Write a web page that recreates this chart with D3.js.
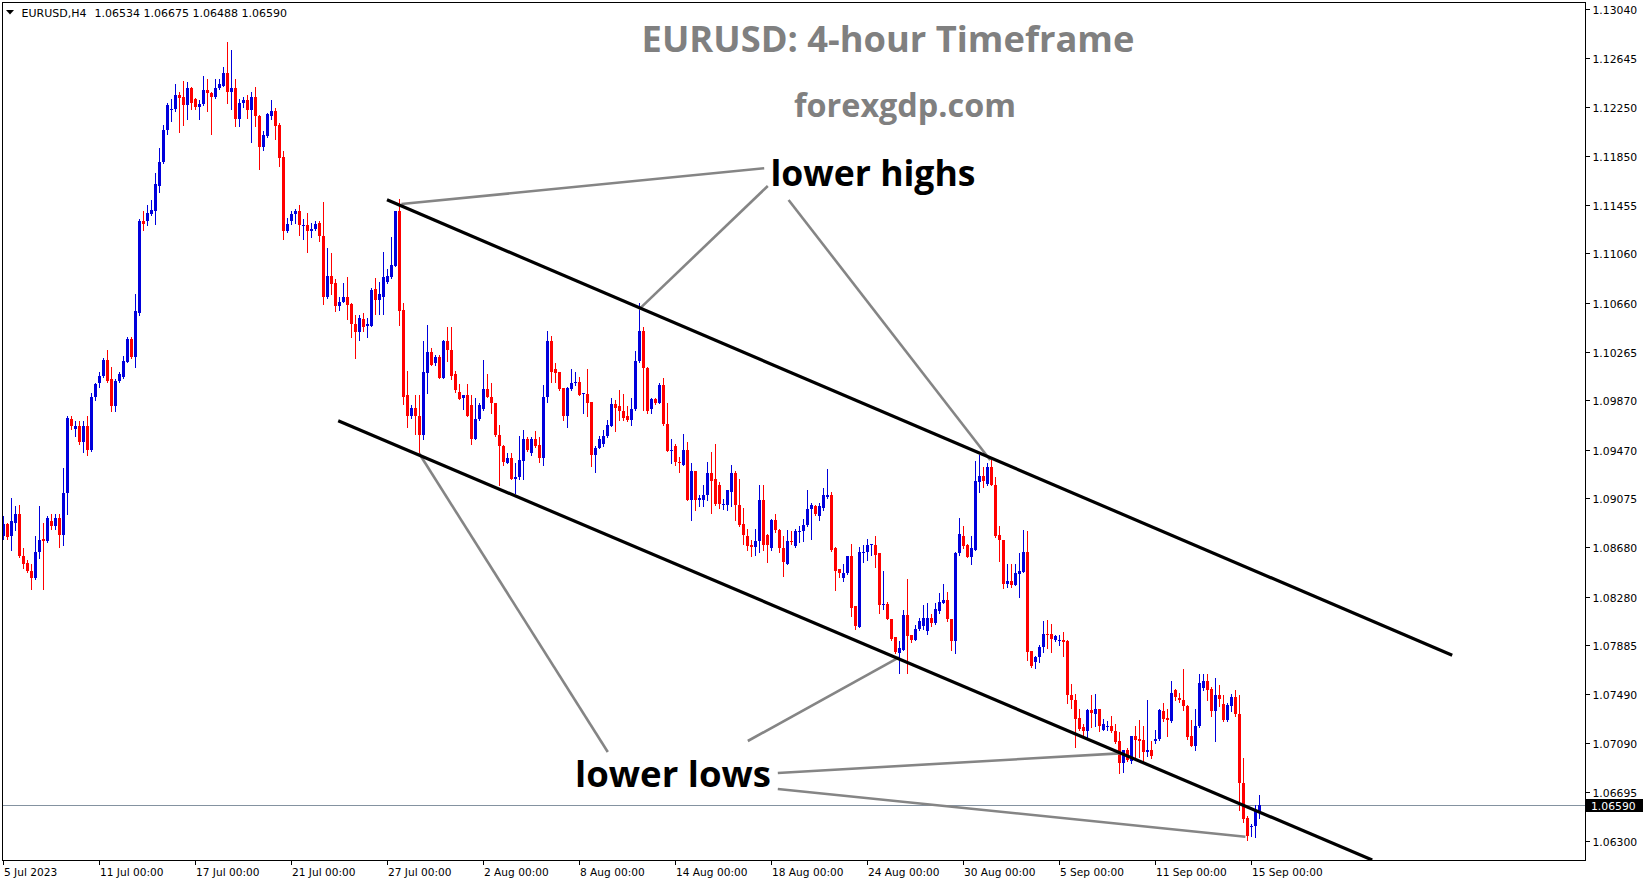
<!DOCTYPE html>
<html><head><meta charset="utf-8">
<script src="https://cdn.jsdelivr.net/npm/d3@7"></script>
<style>html,body{margin:0;padding:0;background:#fff;overflow:hidden}svg{display:block}</style>
</head><body>
<svg id="chart" width="1649" height="884"></svg>
<script>
// ---------- DATA (EURUSD H4) ----------
const symbolLabel = "EURUSD,H4";
const open = [1.0877,1.0887,1.0877,1.0888,1.0895,1.0861,1.0855,1.0849,1.0843,1.0864,1.0875,1.0873,1.0889,1.0885,1.0892,1.0878,1.0912,1.0972,1.0964,1.0966,1.0953,1.0966,1.0947,1.0990,1.1001,1.1007,1.1020,1.1004,1.0982,1.1003,1.1006,1.1018,1.1037,1.1022,1.1058,1.1132,1.1132,1.1138,1.1140,1.1161,1.1180,1.1206,1.1222,1.1223,1.1234,1.1233,1.1226,1.1240,1.1231,1.1225,1.1227,1.1238,1.1236,1.1233,1.1240,1.1242,1.1252,1.1237,1.1240,1.1215,1.1228,1.1230,1.1222,1.1233,1.1217,1.1192,1.1201,1.1217,1.1221,1.1210,1.1184,1.1124,1.1132,1.1138,1.1140,1.1128,1.1129,1.1124,1.1126,1.1131,1.1120,1.1071,1.1088,1.1082,1.1063,1.1067,1.1071,1.1065,1.1049,1.1042,1.1053,1.1047,1.1047,1.1077,1.1068,1.1071,1.1083,1.1087,1.1096,1.1140,1.1060,1.0991,1.0974,1.0981,1.0974,1.0959,1.1009,1.1026,1.1017,1.1022,1.1005,1.1035,1.1028,1.1008,1.0994,1.0989,1.0991,1.0983,1.0956,1.0972,1.0980,1.0996,1.0990,1.0985,1.0959,1.0950,1.0936,1.0940,1.0923,1.0925,1.0938,1.0956,1.0944,1.0956,1.0951,1.0940,1.0990,1.1035,1.1012,1.1010,1.0997,1.0974,1.0996,1.1001,1.1002,1.0992,1.0992,1.0986,1.0943,1.0948,1.0952,1.0958,1.0966,1.0984,1.0982,1.0978,1.0974,1.0971,1.0980,1.1019,1.1043,1.1013,1.0980,1.0988,1.0985,1.0999,1.0968,1.0946,1.0950,1.0937,1.0935,1.0947,1.0906,1.0930,1.0906,1.0906,1.0910,1.0928,1.0923,1.0918,1.0902,1.0902,1.0913,1.0928,1.0902,1.0887,1.0877,1.0870,1.0868,1.0873,1.0906,1.0878,1.0867,1.0890,1.0882,1.0867,1.0854,1.0873,1.0869,1.0880,1.0881,1.0886,1.0899,1.0901,1.0893,1.0900,1.0909,1.0910,1.0867,1.0850,1.0843,1.0847,1.0861,1.0820,1.0803,1.0863,1.0864,1.0870,1.0870,1.0863,1.0821,1.0822,1.0810,1.0795,1.0782,1.0785,1.0813,1.0797,1.0793,1.0802,1.0804,1.0800,1.0811,1.0807,1.0816,1.0823,1.0825,1.0810,1.0792,1.0863,1.0877,1.0870,1.0860,1.0866,1.0921,1.0926,1.0919,1.0933,1.0918,1.0878,1.0874,1.0838,1.0841,1.0837,1.0846,1.0848,1.0864,1.0784,1.0775,1.0779,1.0787,1.0798,1.0798,1.0793,1.0792,1.0793,1.0792,1.0748,1.0744,1.0730,1.0722,1.0719,1.0736,1.0733,1.0737,1.0720,1.0722,1.0723,1.0719,1.0711,1.0693,1.0704,1.0695,1.0715,1.0713,1.0712,1.0702,1.0704,1.0711,1.0713,1.0735,1.0730,1.0727,1.0752,1.0746,1.0744,1.0739,1.0715,1.0707,1.0723,1.0754,1.0760,1.0753,1.0735,1.0748,1.0741,1.0728,1.0739,1.0747,1.0733,1.0677,1.0649,1.0641,1.0642,1.06534];
const high = [1.0893,1.0888,1.0908,1.0901,1.0902,1.0867,1.0858,1.0854,1.0877,1.0901,1.0888,1.0893,1.0895,1.0895,1.0895,1.0932,1.0974,1.0974,1.0970,1.0970,1.0970,1.0974,1.0993,1.1001,1.1010,1.1021,1.1028,1.1014,1.1004,1.1010,1.1023,1.1038,1.1038,1.1073,1.1134,1.1140,1.1145,1.1149,1.1171,1.1191,1.1210,1.1228,1.1231,1.1243,1.1237,1.1246,1.1245,1.1241,1.1232,1.1230,1.1250,1.1247,1.1237,1.1247,1.1247,1.1257,1.1277,1.1271,1.1247,1.1231,1.1233,1.1234,1.1237,1.1241,1.1218,1.1205,1.1220,1.1230,1.1224,1.1212,1.1189,1.1135,1.1140,1.1142,1.1145,1.1134,1.1139,1.1131,1.1132,1.1132,1.1148,1.1110,1.1106,1.1085,1.1071,1.1082,1.1087,1.1066,1.1056,1.1056,1.1058,1.1054,1.1078,1.1086,1.1083,1.1107,1.1093,1.1119,1.1140,1.1150,1.1066,1.1011,1.0983,1.0991,1.0991,1.1035,1.1048,1.1029,1.1024,1.1024,1.1036,1.1046,1.1046,1.1011,1.1000,1.0991,1.1000,1.0991,1.0989,1.0985,1.1020,1.1008,1.1001,1.0985,1.0967,1.0951,1.0944,1.0944,1.0936,1.0958,1.0963,1.0957,1.0957,1.0962,1.0957,1.0999,1.1043,1.1039,1.1017,1.1010,1.0997,1.0998,1.1012,1.1010,1.1006,1.0993,1.1012,1.0986,1.0950,1.0958,1.0963,1.0971,1.0989,1.0987,1.0995,1.0992,1.0982,1.0989,1.1027,1.1066,1.1046,1.1014,1.0989,1.0989,1.1001,1.1005,1.0985,1.0956,1.0952,1.0941,1.0960,1.0953,1.0936,1.0930,1.0910,1.0918,1.0937,1.0945,1.0952,1.0921,1.0907,1.0914,1.0935,1.0930,1.0923,1.0900,1.0883,1.0874,1.0883,1.0918,1.0918,1.0879,1.0891,1.0895,1.0883,1.0877,1.0882,1.0881,1.0883,1.0885,1.0891,1.0914,1.0904,1.0902,1.0904,1.0916,1.0931,1.0913,1.0868,1.0850,1.0854,1.0861,1.0871,1.0820,1.0868,1.0870,1.0875,1.0871,1.0877,1.0863,1.0849,1.0824,1.0810,1.0795,1.0792,1.0817,1.0842,1.0797,1.0805,1.0811,1.0821,1.0823,1.0814,1.0823,1.0831,1.0838,1.0832,1.0810,1.0864,1.0892,1.0885,1.0871,1.0877,1.0938,1.0943,1.0933,1.0936,1.0939,1.0925,1.0885,1.0874,1.0854,1.0854,1.0854,1.0863,1.0882,1.0881,1.0784,1.0780,1.0789,1.0808,1.0809,1.0806,1.0797,1.0797,1.0799,1.0793,1.0757,1.0749,1.0737,1.0725,1.0737,1.0748,1.0749,1.0737,1.0729,1.0727,1.0731,1.0725,1.0718,1.0704,1.0705,1.0715,1.0723,1.0728,1.0723,1.0744,1.0711,1.0720,1.0737,1.0742,1.0737,1.0760,1.0753,1.0750,1.0769,1.0740,1.0728,1.0737,1.0765,1.0765,1.0765,1.0755,1.0762,1.0756,1.0748,1.0742,1.0749,1.0752,1.0748,1.0697,1.0650,1.0644,1.0659,1.06675];
const low = [1.0875,1.0875,1.0866,1.0882,1.0860,1.0851,1.0848,1.0834,1.0842,1.0859,1.0834,1.0872,1.0883,1.0883,1.0868,1.0870,1.0895,1.0964,1.0958,1.0952,1.0945,1.0943,1.0946,1.0987,1.0998,1.1006,1.1002,1.0978,1.0978,1.1002,1.1005,1.1018,1.1021,1.1014,1.1056,1.1125,1.1129,1.1137,1.1130,1.1156,1.1179,1.1203,1.1213,1.1221,1.1204,1.1210,1.1215,1.1223,1.1223,1.1215,1.1226,1.1221,1.1203,1.1232,1.1239,1.1242,1.1228,1.1223,1.1209,1.1209,1.1225,1.1216,1.1196,1.1209,1.1174,1.1190,1.1200,1.1215,1.1199,1.1177,1.1118,1.1123,1.1130,1.1131,1.1121,1.1118,1.1107,1.1119,1.1125,1.1116,1.1065,1.1070,1.1073,1.1059,1.1060,1.1067,1.1053,1.1038,1.1021,1.1036,1.1043,1.1038,1.1047,1.1057,1.1057,1.1057,1.1082,1.1086,1.1096,1.1048,1.0984,1.0965,1.0973,1.0960,1.0944,1.0956,1.0993,1.1016,1.1016,1.1005,1.1005,1.1019,1.1004,1.0994,1.0988,1.0980,1.0974,1.0952,1.0956,1.0971,1.0979,1.0990,1.0977,1.0958,1.0918,1.0935,1.0936,1.0923,1.0912,1.0923,1.0923,1.0946,1.0943,1.0949,1.0937,1.0935,1.0986,1.1002,1.1002,1.0995,1.0971,1.0965,1.0995,1.0999,1.0991,1.0977,1.0974,1.0934,1.0929,1.0948,1.0950,1.0957,1.0966,1.0962,1.0971,1.0971,1.0970,1.0967,1.0979,1.1018,1.0979,1.0977,1.0977,1.0984,1.0985,1.0967,1.0946,1.0936,1.0935,1.0929,1.0935,1.0906,1.0890,1.0898,1.0901,1.0901,1.0906,1.0896,1.0902,1.0900,1.0899,1.0898,1.0901,1.0890,1.0885,1.0871,1.0866,1.0861,1.0862,1.0864,1.0866,1.0856,1.0866,1.0880,1.0864,1.0845,1.0854,1.0871,1.0868,1.0872,1.0873,1.0885,1.0875,1.0894,1.0890,1.0898,1.0908,1.0865,1.0833,1.0844,1.0841,1.0846,1.0812,1.0802,1.0803,1.0856,1.0858,1.0862,1.0852,1.0815,1.0818,1.0810,1.0793,1.0782,1.0766,1.0785,1.0766,1.0791,1.0793,1.0801,1.0802,1.0798,1.0804,1.0806,1.0815,1.0823,1.0808,1.0785,1.0782,1.0862,1.0867,1.0860,1.0854,1.0866,1.0913,1.0917,1.0918,1.0918,1.0876,1.0857,1.0835,1.0836,1.0836,1.0837,1.0828,1.0848,1.0777,1.0771,1.0770,1.0775,1.0783,1.0786,1.0783,1.0792,1.0789,1.0780,1.0742,1.0738,1.0706,1.0720,1.0715,1.0714,1.0722,1.0723,1.0719,1.0720,1.0720,1.0718,1.0709,1.0685,1.0686,1.0695,1.0693,1.0696,1.0698,1.0695,1.0699,1.0697,1.0709,1.0712,1.0727,1.0715,1.0726,1.0744,1.0743,1.0736,1.0713,1.0707,1.0704,1.0722,1.0752,1.0744,1.0731,1.0711,1.0739,1.0727,1.0727,1.0735,1.0731,1.0655,1.0645,1.0631,1.0634,1.0633,1.06488];
const close = [1.0887,1.0876,1.0889,1.0895,1.0861,1.0854,1.0849,1.0843,1.0864,1.0874,1.0873,1.0892,1.0885,1.0892,1.0878,1.0912,1.0973,1.0966,1.0966,1.0953,1.0966,1.0947,1.0990,1.1000,1.1007,1.1020,1.1003,1.0982,1.1003,1.1008,1.1019,1.1037,1.1022,1.1059,1.1132,1.1130,1.1139,1.1141,1.1162,1.1180,1.1206,1.1226,1.1223,1.1234,1.1232,1.1226,1.1240,1.1228,1.1225,1.1227,1.1238,1.1236,1.1233,1.1240,1.1243,1.1252,1.1237,1.1240,1.1215,1.1228,1.1230,1.1222,1.1233,1.1217,1.1192,1.1202,1.1219,1.1221,1.1209,1.1183,1.1124,1.1130,1.1138,1.1140,1.1129,1.1129,1.1124,1.1126,1.1130,1.1120,1.1071,1.1088,1.1081,1.1063,1.1067,1.1071,1.1064,1.1049,1.1042,1.1054,1.1046,1.1049,1.1076,1.1068,1.1073,1.1087,1.1088,1.1097,1.1140,1.1059,1.0990,1.0974,1.0981,1.0974,1.0959,1.1010,1.1026,1.1016,1.1022,1.1005,1.1035,1.1028,1.1007,1.0995,1.0988,1.0991,1.0974,1.0956,1.0972,1.0983,1.0996,1.0990,1.0985,1.0959,1.0950,1.0937,1.0940,1.0923,1.0925,1.0939,1.0956,1.0947,1.0956,1.0950,1.0940,1.0990,1.1035,1.1010,1.1009,1.0996,1.0974,1.0997,1.1001,1.1002,1.0991,1.0993,1.0985,1.0943,1.0948,1.0956,1.0958,1.0967,1.0984,1.0981,1.0978,1.0973,1.0971,1.0980,1.1019,1.1043,1.1013,1.0978,1.0988,1.0985,1.0999,1.0968,1.0946,1.0947,1.0937,1.0936,1.0947,1.0906,1.0930,1.0906,1.0908,1.0910,1.0928,1.0922,1.0903,1.0903,1.0903,1.0914,1.0928,1.0902,1.0886,1.0878,1.0869,1.0868,1.0873,1.0906,1.0870,1.0870,1.0890,1.0882,1.0867,1.0856,1.0873,1.0872,1.0881,1.0881,1.0886,1.0899,1.0902,1.0895,1.0901,1.0910,1.0910,1.0866,1.0849,1.0847,1.0847,1.0861,1.0819,1.0804,1.0864,1.0864,1.0870,1.0871,1.0862,1.0821,1.0822,1.0810,1.0794,1.0783,1.0786,1.0813,1.0796,1.0793,1.0802,1.0808,1.0811,1.0811,1.0807,1.0818,1.0824,1.0825,1.0810,1.0792,1.0863,1.0879,1.0869,1.0860,1.0867,1.0922,1.0926,1.0922,1.0933,1.0918,1.0877,1.0874,1.0838,1.0841,1.0837,1.0847,1.0849,1.0864,1.0783,1.0772,1.0779,1.0787,1.0798,1.0797,1.0794,1.0796,1.0793,1.0791,1.0748,1.0744,1.0729,1.0721,1.0719,1.0736,1.0734,1.0737,1.0723,1.0725,1.0723,1.0719,1.0710,1.0693,1.0704,1.0696,1.0715,1.0712,1.0711,1.0702,1.0704,1.0699,1.0713,1.0736,1.0729,1.0728,1.0750,1.0747,1.0744,1.0739,1.0714,1.0707,1.0723,1.0758,1.0760,1.0752,1.0735,1.0748,1.0745,1.0728,1.0740,1.0747,1.0733,1.0677,1.0648,1.0634,1.0642,1.0654,1.06590];

const yTickLabels = ["1.13040","1.12645","1.12250","1.11850","1.11455","1.11060","1.10660","1.10265","1.09870","1.09470","1.09075","1.08680","1.08280","1.07885","1.07490","1.07090","1.06695","1.06300"];
const xTickLabels = ["5 Jul 2023","11 Jul 00:00","17 Jul 00:00","21 Jul 00:00","27 Jul 00:00","2 Aug 00:00","8 Aug 00:00","14 Aug 00:00","18 Aug 00:00","24 Aug 00:00","30 Aug 00:00","5 Sep 00:00","11 Sep 00:00","15 Sep 00:00"];
const xTickBars = [0,24,48,72,96,120,144,168,192,216,240,264,288,312];

// channel lines: [bar index, price]
const channelUpper = [[96.0,1.11494],[362.3,1.07805]];
const channelLower = [[83.8,1.09705],[342.3,1.06146]];
// annotation pointer lines: [bar index, price] pairs
const pointersHighs = [
  [[190.3,1.11750],[99.6,1.11460]],
  [[191.2,1.11606],[159.0,1.10607]],
  [[196.4,1.11493],[246.8,1.09386]]
];
const pointersLows = [
  [[151.2,1.07021],[104.0,1.09441]],
  [[186.2,1.07110],[224.0,1.07788]],
  [[193.7,1.06851],[279.2,1.07010]],
  [[193.7,1.06721],[310.6,1.06335]]
];
const titleText = "EURUSD: 4-hour Timeframe";
const siteText = "forexgdp.com";
const highsText = "lower highs";
const lowsText = "lower lows";

// ---------- LAYOUT ----------
const svg = d3.select("#chart");
const L = 2.5, T = 2.5, R = 1585.5, B = 860.5;
const x = d3.scaleLinear().domain([0, 395.5]).range([3, 1585]);
const y = d3.scaleLinear().domain([1.063, 1.1304]).range([841, 9]);
const BLUE = "#0000dc", RED = "#ff0000";
const axisFont = "DejaVu Sans, Verdana, sans-serif";

svg.append("rect").attr("width",1649).attr("height",884).attr("fill","#fff");
svg.append("defs").append("clipPath").attr("id","plot")
  .append("rect").attr("x",L).attr("y",T).attr("width",R-L).attr("height",B-T);

const plot = svg.append("g").attr("clip-path","url(#plot)");

// current price line
const last = close[close.length-1];
const yLast = Math.round(y(last)) + 0.5;
plot.append("line").attr("x1",L).attr("x2",R).attr("y1",yLast).attr("y2",yLast)
  .attr("stroke","#8492a0").attr("stroke-width",1);

// candles
const idx = d3.range(open.length);
const cg = plot.append("g").attr("shape-rendering","crispEdges");
cg.selectAll("rect.w").data(idx).join("rect").attr("class","w")
  .attr("x", i => Math.round(x(i)))
  .attr("width",1)
  .attr("y", i => Math.round(y(high[i])))
  .attr("height", i => Math.max(1, Math.round(y(low[i])) - Math.round(y(high[i])) + 1))
  .attr("fill", i => close[i] >= open[i] ? BLUE : RED);
cg.selectAll("rect.b").data(idx).join("rect").attr("class","b")
  .attr("x", i => Math.round(x(i)) - 1)
  .attr("width",3)
  .attr("y", i => Math.round(y(Math.max(open[i],close[i]))))
  .attr("height", i => Math.max(1, Math.round(y(Math.min(open[i],close[i]))) - Math.round(y(Math.max(open[i],close[i])))))
  .attr("fill", i => close[i] >= open[i] ? BLUE : RED);

// annotation pointer lines (gray)
const lineGen = d3.line().x(d => x(d[0])).y(d => y(d[1]));
plot.selectAll("path.ph").data(pointersHighs.concat(pointersLows)).join("path")
  .attr("d", lineGen).attr("fill","none").attr("stroke","#858585").attr("stroke-width",2.6);

// channel lines
plot.selectAll("path.ch").data([channelUpper, channelLower]).join("path")
  .attr("d", lineGen).attr("fill","none").attr("stroke","#000").attr("stroke-width",3.2);

// frame
svg.append("rect").attr("x",L).attr("y",T).attr("width",R-L).attr("height",B-T)
  .attr("fill","none").attr("stroke","#000").attr("stroke-width",1).attr("shape-rendering","crispEdges");

// y axis
const ya = svg.append("g").attr("font-family",axisFont).attr("font-size","10.8px").attr("fill","#000");
yTickLabels.forEach(lbl => {
  const yy = Math.round(y(+lbl)) + 0.5;
  ya.append("line").attr("x1",R).attr("x2",R+4).attr("y1",yy).attr("y2",yy).attr("stroke","#000").attr("shape-rendering","crispEdges");
  ya.append("text").attr("x",1592.5).attr("y",yy+4).text(lbl);
});
// current price label
ya.append("rect").attr("x",1586).attr("y",yLast-6.5).attr("width",57).attr("height",13).attr("fill","#000");
ya.append("text").attr("x",1591).attr("y",yLast+4).attr("fill","#fff").text(last.toFixed(5));

// x axis
const xa = svg.append("g").attr("font-family",axisFont).attr("font-size","10.6px").attr("fill","#000");
xTickBars.forEach((b,k) => {
  const xx = Math.round(x(b)) + 0.5;
  xa.append("line").attr("x1",xx).attr("x2",xx).attr("y1",B).attr("y2",B+4).attr("stroke","#000").attr("shape-rendering","crispEdges");
  xa.append("text").attr("x",xx+0.5).attr("y",876).text(xTickLabels[k]);
});

// header
svg.append("path").attr("d","M6,10 L14,10 L10,14.5 Z").attr("fill","#000");
const hdr = svg.append("text").attr("font-family",axisFont).attr("font-size","11px").attr("y",16.5);
hdr.append("tspan").attr("x",21.5).text(symbolLabel);
hdr.append("tspan").attr("x",94.5).text([open,high,low,close].map(a => a[a.length-1].toFixed(5)).join(" "));

// annotation texts, fitted to target widths
function fitText(str, cx, baseline, targetW, color) {
  const t = svg.append("text").attr("font-family","Open Sans, sans-serif").attr("font-weight",700)
    .attr("font-size","40px").attr("text-anchor","middle").attr("x",cx).attr("y",baseline)
    .attr("fill",color).text(str);
  const w = t.node().getComputedTextLength();
  t.attr("font-size", (40*targetW/w).toFixed(2)+"px");
}
fitText(titleText, 888, 52, 493, "#808080");
fitText(siteText, 905, 117, 222, "#808080");
fitText(highsText, 873, 186, 205, "#000");
fitText(lowsText, 673, 787, 196, "#000");
</script>
</body></html>
